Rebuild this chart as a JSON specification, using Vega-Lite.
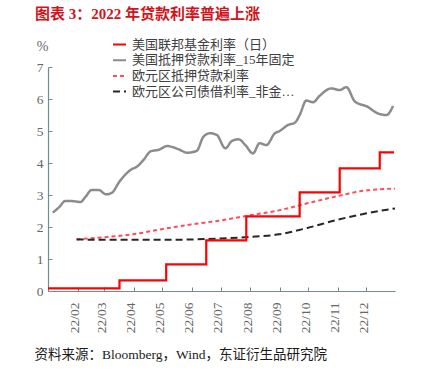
{
  "$schema": "https://vega.github.io/schema/vega-lite/v6.json",
  "width": 347,
  "height": 224,
  "autosize": "none",
  "padding": {"left": 48, "top": 67, "right": 41, "bottom": 84},
  "background": "white",
  "title": {
    "text": "图表 3：2022 年贷款利率普遍上涨",
    "anchor": "start",
    "frame": "group",
    "dx": -13,
    "offset": 15,
    "color": "#d0141c",
    "font": "'Liberation Serif', 'Noto Sans CJK SC'",
    "fontSize": 15,
    "fontWeight": "bold"
  },
  "config": {
    "view": {"stroke": null},
    "axis": {
      "grid": false,
      "domainColor": "#6f8f8e",
      "tickColor": "#6f8f8e",
      "domainWidth": 1.2,
      "tickSize": -4,
      "labelFont": "Liberation Serif",
      "labelFontSize": 13.5,
      "labelColor": "#666666"
    },
    "legend": {
      "orient": "none",
      "legendX": 64,
      "legendY": -30,
      "padding": 0,
      "symbolType": "stroke",
      "symbolSize": 169,
      "symbolStrokeWidth": 2,
      "labelFont": "'Liberation Serif', 'Noto Sans CJK SC'",
      "labelFontSize": 13,
      "labelColor": "#404040",
      "labelLimit": 166,
      "labelOffset": 5,
      "rowPadding": 0.7
    }
  },
  "data": {
    "values": [
      {"series": "美国联邦基金利率（日）", "date": "2022-01-01", "value": 0.08},
      {"series": "美国联邦基金利率（日）", "date": "2022-03-17", "value": 0.33},
      {"series": "美国联邦基金利率（日）", "date": "2022-05-05", "value": 0.83},
      {"series": "美国联邦基金利率（日）", "date": "2022-06-16", "value": 1.58},
      {"series": "美国联邦基金利率（日）", "date": "2022-07-28", "value": 2.33},
      {"series": "美国联邦基金利率（日）", "date": "2022-09-22", "value": 3.08},
      {"series": "美国联邦基金利率（日）", "date": "2022-11-03", "value": 3.83},
      {"series": "美国联邦基金利率（日）", "date": "2022-12-15", "value": 4.33},
      {"series": "美国联邦基金利率（日）", "date": "2022-12-30", "value": 4.33},

      {"series": "美国抵押贷款利率_15年固定", "date": "2022-01-06", "value": 2.45},
      {"series": "美国抵押贷款利率_15年固定", "date": "2022-01-13", "value": 2.63},
      {"series": "美国抵押贷款利率_15年固定", "date": "2022-01-19", "value": 2.81},
      {"series": "美国抵押贷款利率_15年固定", "date": "2022-01-26", "value": 2.81},
      {"series": "美国抵押贷款利率_15年固定", "date": "2022-02-04", "value": 2.78},
      {"series": "美国抵押贷款利率_15年固定", "date": "2022-02-09", "value": 2.93},
      {"series": "美国抵押贷款利率_15年固定", "date": "2022-02-16", "value": 3.16},
      {"series": "美国抵押贷款利率_15年固定", "date": "2022-02-23", "value": 3.16},
      {"series": "美国抵押贷款利率_15年固定", "date": "2022-03-03", "value": 3.02},
      {"series": "美国抵押贷款利率_15年固定", "date": "2022-03-09", "value": 3.07},
      {"series": "美国抵押贷款利率_15年固定", "date": "2022-03-17", "value": 3.42},
      {"series": "美国抵押贷款利率_15年固定", "date": "2022-03-30", "value": 3.81},
      {"series": "美国抵押贷款利率_15年固定", "date": "2022-04-04", "value": 3.88},
      {"series": "美国抵押贷款利率_15年固定", "date": "2022-04-11", "value": 4.09},
      {"series": "美国抵押贷款利率_15年固定", "date": "2022-04-19", "value": 4.37},
      {"series": "美国抵押贷款利率_15年固定", "date": "2022-04-27", "value": 4.41},
      {"series": "美国抵押贷款利率_15年固定", "date": "2022-05-06", "value": 4.53},
      {"series": "美国抵押贷款利率_15年固定", "date": "2022-05-18", "value": 4.43},
      {"series": "美国抵押贷款利率_15年固定", "date": "2022-05-27", "value": 4.32},
      {"series": "美国抵押贷款利率_15年固定", "date": "2022-06-06", "value": 4.38},
      {"series": "美国抵押贷款利率_15年固定", "date": "2022-06-13", "value": 4.82},
      {"series": "美国抵押贷款利率_15年固定", "date": "2022-06-20", "value": 4.93},
      {"series": "美国抵押贷款利率_15年固定", "date": "2022-06-27", "value": 4.88},
      {"series": "美国抵押贷款利率_15年固定", "date": "2022-07-06", "value": 4.46},
      {"series": "美国抵押贷款利率_15年固定", "date": "2022-07-13", "value": 4.69},
      {"series": "美国抵押贷款利率_15年固定", "date": "2022-07-20", "value": 4.74},
      {"series": "美国抵押贷款利率_15年固定", "date": "2022-07-27", "value": 4.56},
      {"series": "美国抵押贷款利率_15年固定", "date": "2022-08-04", "value": 4.30},
      {"series": "美国抵押贷款利率_15年固定", "date": "2022-08-11", "value": 4.62},
      {"series": "美国抵押贷款利率_15年固定", "date": "2022-08-18", "value": 4.56},
      {"series": "美国抵押贷款利率_15年固定", "date": "2022-08-27", "value": 4.93},
      {"series": "美国抵押贷款利率_15年固定", "date": "2022-09-01", "value": 5.00},
      {"series": "美国抵押贷款利率_15年固定", "date": "2022-09-10", "value": 5.19},
      {"series": "美国抵押贷款利率_15年固定", "date": "2022-09-17", "value": 5.26},
      {"series": "美国抵押贷款利率_15年固定", "date": "2022-09-22", "value": 5.50},
      {"series": "美国抵押贷款利率_15年固定", "date": "2022-09-29", "value": 5.95},
      {"series": "美国抵押贷款利率_15年固定", "date": "2022-10-06", "value": 5.90},
      {"series": "美国抵押贷款利率_15年固定", "date": "2022-10-13", "value": 6.10},
      {"series": "美国抵押贷款利率_15年固定", "date": "2022-10-25", "value": 6.33},
      {"series": "美国抵押贷款利率_15年固定", "date": "2022-11-03", "value": 6.28},
      {"series": "美国抵押贷款利率_15年固定", "date": "2022-11-10", "value": 6.37},
      {"series": "美国抵押贷款利率_15年固定", "date": "2022-11-19", "value": 5.92},
      {"series": "美国抵押贷款利率_15年固定", "date": "2022-12-02", "value": 5.76},
      {"series": "美国抵押贷款利率_15年固定", "date": "2022-12-13", "value": 5.55},
      {"series": "美国抵押贷款利率_15年固定", "date": "2022-12-22", "value": 5.50},
      {"series": "美国抵押贷款利率_15年固定", "date": "2022-12-29", "value": 5.78},

      {"series": "欧元区抵押贷款利率", "date": "2022-01-31", "value": 1.62},
      {"series": "欧元区抵押贷款利率", "date": "2022-02-28", "value": 1.68},
      {"series": "欧元区抵押贷款利率", "date": "2022-03-31", "value": 1.77},
      {"series": "欧元区抵押贷款利率", "date": "2022-04-30", "value": 1.93},
      {"series": "欧元区抵押贷款利率", "date": "2022-05-31", "value": 2.08},
      {"series": "欧元区抵押贷款利率", "date": "2022-06-30", "value": 2.20},
      {"series": "欧元区抵押贷款利率", "date": "2022-07-31", "value": 2.36},
      {"series": "欧元区抵押贷款利率", "date": "2022-08-31", "value": 2.52},
      {"series": "欧元区抵押贷款利率", "date": "2022-09-30", "value": 2.74},
      {"series": "欧元区抵押贷款利率", "date": "2022-10-31", "value": 2.96},
      {"series": "欧元区抵押贷款利率", "date": "2022-11-30", "value": 3.14},
      {"series": "欧元区抵押贷款利率", "date": "2022-12-31", "value": 3.20},

      {"series": "欧元区公司债借利率_非金融企业", "date": "2022-01-31", "value": 1.61},
      {"series": "欧元区公司债借利率_非金融企业", "date": "2022-02-28", "value": 1.60},
      {"series": "欧元区公司债借利率_非金融企业", "date": "2022-03-31", "value": 1.60},
      {"series": "欧元区公司债借利率_非金融企业", "date": "2022-04-30", "value": 1.60},
      {"series": "欧元区公司债借利率_非金融企业", "date": "2022-05-31", "value": 1.61},
      {"series": "欧元区公司债借利率_非金融企业", "date": "2022-06-30", "value": 1.64},
      {"series": "欧元区公司债借利率_非金融企业", "date": "2022-07-31", "value": 1.69},
      {"series": "欧元区公司债借利率_非金融企业", "date": "2022-08-31", "value": 1.77},
      {"series": "欧元区公司债借利率_非金融企业", "date": "2022-09-30", "value": 1.97},
      {"series": "欧元区公司债借利率_非金融企业", "date": "2022-10-31", "value": 2.22},
      {"series": "欧元区公司债借利率_非金融企业", "date": "2022-11-30", "value": 2.42},
      {"series": "欧元区公司债借利率_非金融企业", "date": "2022-12-31", "value": 2.58}
    ]
  },
  "encoding": {
    "x": {
      "field": "date",
      "type": "temporal",
      "scale": {
        "type": "utc",
        "domain": [
          {"year": 2022, "month": 1, "date": 1, "utc": true},
          {"year": 2022, "month": 12, "date": 31, "utc": true}
        ]
      },
      "axis": {
        "values": [
          {"year": 2022, "month": 2, "date": 1, "utc": true},
          {"year": 2022, "month": 3, "date": 1, "utc": true},
          {"year": 2022, "month": 4, "date": 1, "utc": true},
          {"year": 2022, "month": 5, "date": 1, "utc": true},
          {"year": 2022, "month": 6, "date": 1, "utc": true},
          {"year": 2022, "month": 7, "date": 1, "utc": true},
          {"year": 2022, "month": 8, "date": 1, "utc": true},
          {"year": 2022, "month": 9, "date": 1, "utc": true},
          {"year": 2022, "month": 10, "date": 1, "utc": true},
          {"year": 2022, "month": 11, "date": 1, "utc": true},
          {"year": 2022, "month": 12, "date": 1, "utc": true}
        ],
        "labelExpr": "utcFormat(datum.value, '%y/%m')",
        "labelAngle": -90,
        "labelOffset": -3,
        "labelPadding": 15,
        "title": "资料来源：Bloomberg，Wind，东证衍生品研究院",
        "titleX": -14,
        "titleY": 63,
        "titleAlign": "left",
        "titleBaseline": "middle",
        "titleAngle": 0,
        "titleFont": "'Liberation Serif', 'Noto Sans CJK SC'",
        "titleFontSize": 13.5,
        "titleFontWeight": "normal",
        "titleColor": "#1a1a1a"
      }
    },
    "y": {
      "field": "value",
      "type": "quantitative",
      "scale": {"domain": [0, 7], "nice": false, "zero": true},
      "axis": {
        "values": [0, 1, 2, 3, 4, 5, 6, 7],
        "labelPadding": 9,
        "title": "%",
        "titleAngle": 0,
        "titleX": -6,
        "titleY": -21,
        "titleAlign": "center",
        "titleBaseline": "middle",
        "titleFont": "Liberation Serif",
        "titleFontSize": 14,
        "titleFontWeight": "normal",
        "titleColor": "#666666"
      }
    },
    "color": {
      "field": "series",
      "type": "nominal",
      "scale": {
        "domain": ["美国联邦基金利率（日）", "美国抵押贷款利率_15年固定", "欧元区抵押贷款利率", "欧元区公司债借利率_非金融企业"],
        "range": ["#ff0000", "#8c8c8c", "#ff4d5a", "#262626"]
      },
      "legend": {"title": null}
    },
    "strokeDash": {
      "field": "series",
      "type": "nominal",
      "scale": {
        "domain": ["美国联邦基金利率（日）", "美国抵押贷款利率_15年固定", "欧元区抵押贷款利率", "欧元区公司债借利率_非金融企业"],
        "range": [[1, 0], [1, 0], [4, 3], [7, 4]]
      },
      "legend": {"title": null}
    }
  },
  "layer": [
    {
      "transform": [{"filter": "datum.series === '美国抵押贷款利率_15年固定'"}],
      "mark": {"type": "line", "interpolate": "monotone", "strokeWidth": 2.5}
    },
    {
      "transform": [{"filter": "datum.series === '欧元区抵押贷款利率' || datum.series === '欧元区公司债借利率_非金融企业'"}],
      "mark": {"type": "line", "interpolate": "monotone", "strokeWidth": 2}
    },
    {
      "transform": [{"filter": "datum.series === '美国联邦基金利率（日）'"}],
      "mark": {"type": "line", "interpolate": "step-after", "strokeWidth": 2.2}
    }
  ]
}
